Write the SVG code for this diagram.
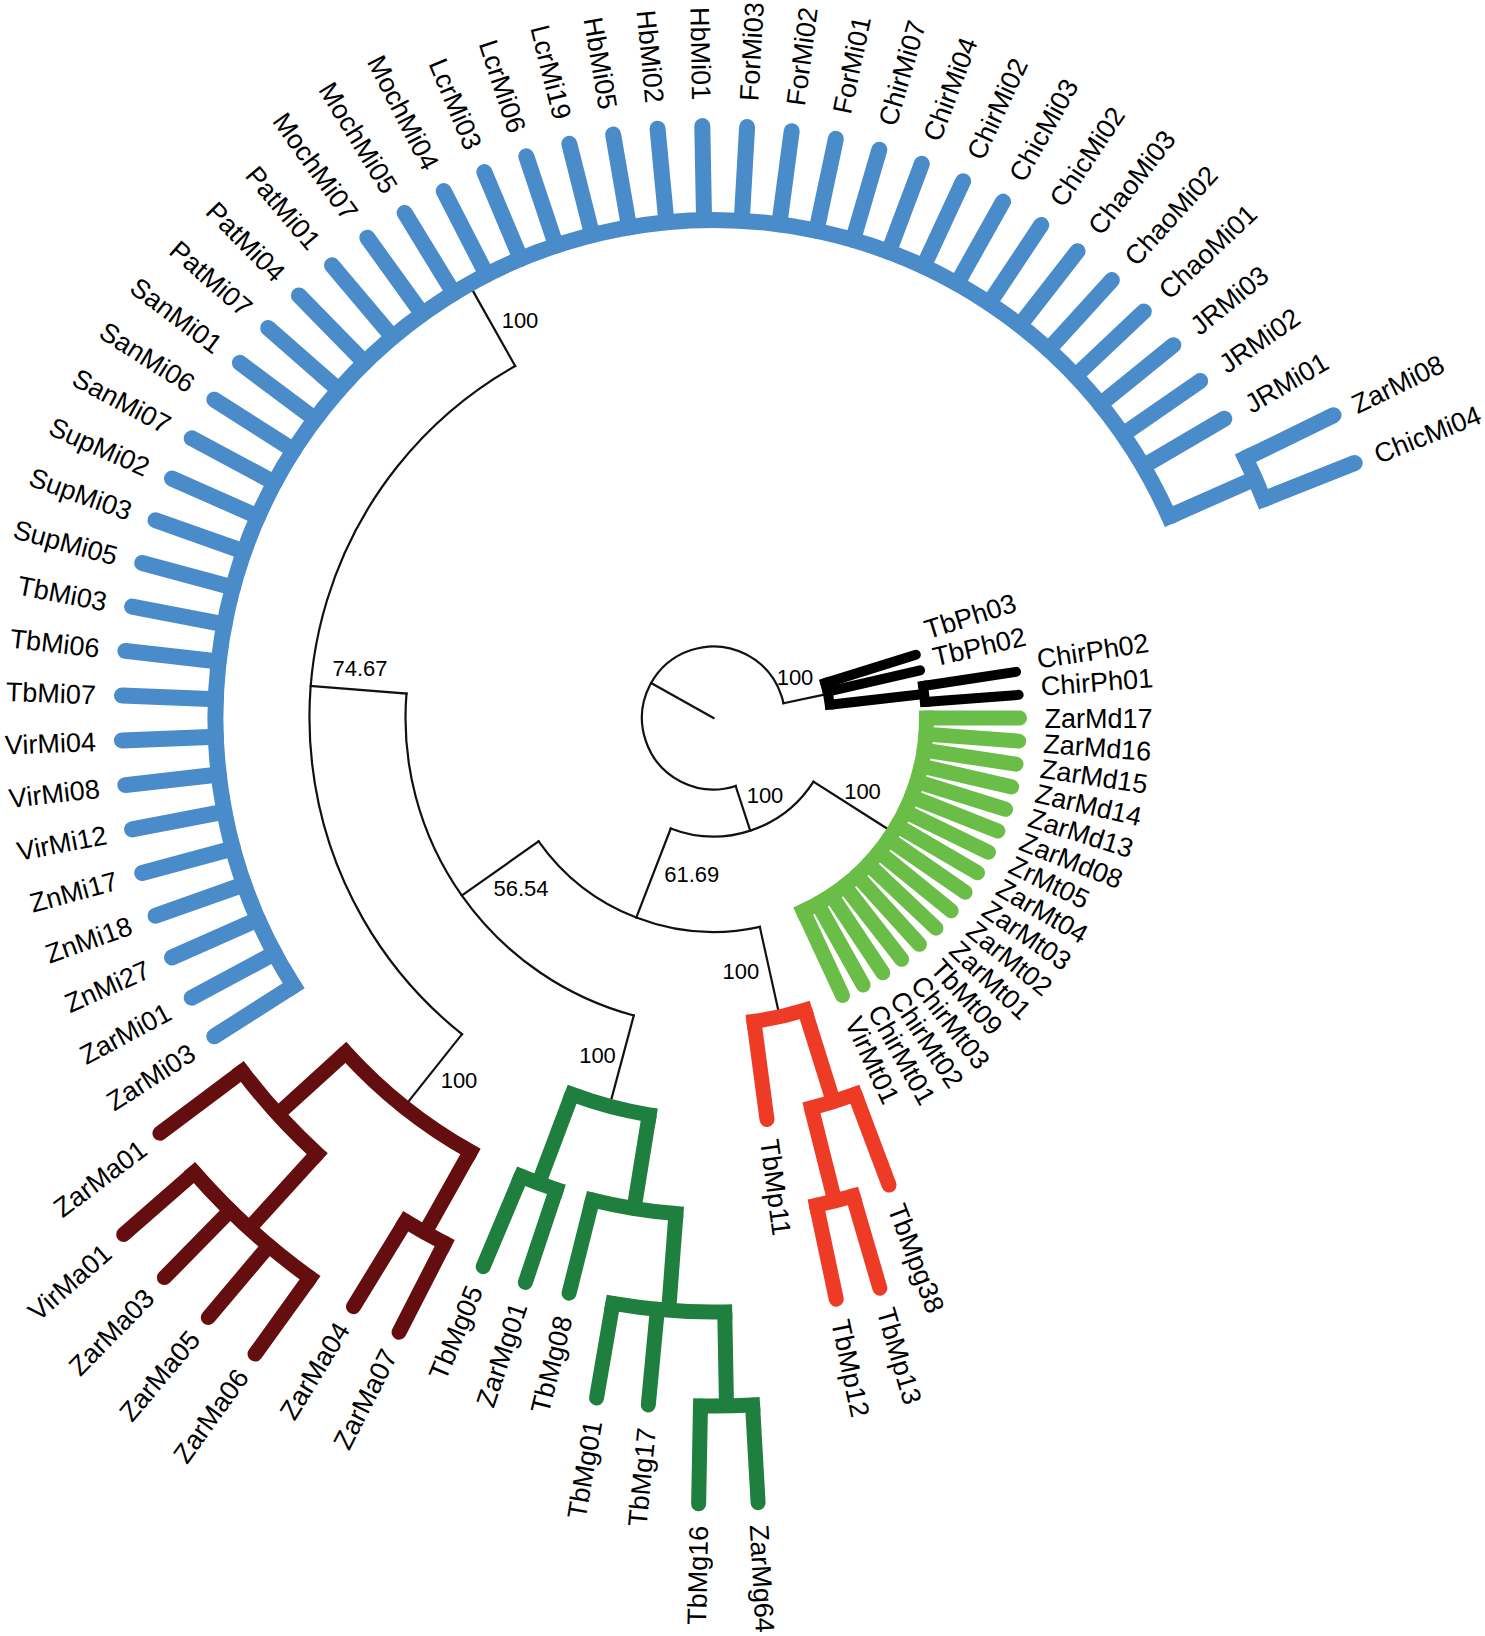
<svg xmlns="http://www.w3.org/2000/svg" width="1485" height="1636" viewBox="0 0 1485 1636">
<style>
.t{fill:none;stroke:#111;stroke-width:2.2;stroke-linecap:square}
.c{fill:none;stroke-linecap:round}
.a{fill:none;stroke-linecap:square}
.s{fill:none;stroke-linecap:butt}
.bl{stroke:#4a8bc9;stroke-width:16}
.ma{stroke:#650e10;stroke-width:15}
.mg{stroke:#1f7f3f;stroke-width:15}
.mp{stroke:#ee3b25;stroke-width:15}
.md{stroke:#6abd46;stroke-width:15}
.ph{stroke:#000;stroke-width:10}
text{font-family:"Liberation Sans",Arial,sans-serif;fill:#000}
.l{font-size:27px}
.f{text-anchor:end}
.bs{font-size:22px;text-anchor:middle}
</style>
<rect width="1485" height="1636" fill="#fff"/>
<g id="connectors" transform="translate(713.5,718)">
<g id="backbone">
<line class="t" x2="71.5" transform="rotate(209.3)"/>
<circle class="t" r="71.5" pathLength="360" stroke-dasharray="276.15 400" transform="rotate(71.95)"/>
<line class="t" x1="71.5" x2="112" transform="rotate(348.1)"/>
<line class="t" x1="71.5" x2="118.5" transform="rotate(71.95)"/>
<circle class="t" r="118.5" pathLength="360" stroke-dasharray="78.65 400" transform="rotate(32.5)"/>
<line class="t" x1="118.5" x2="206" transform="rotate(32.5)"/>
<line class="t" x1="118.5" x2="214" transform="rotate(111.15)"/>
<circle class="t" r="214" pathLength="360" stroke-dasharray="67.3 400" transform="rotate(77.5)"/>
<line class="t" x1="214" x2="299" transform="rotate(77.5)"/>
<line class="t" x1="214" x2="308" transform="rotate(144.8)"/>
<circle class="t" r="308" pathLength="360" stroke-dasharray="79.55 400" transform="rotate(105)"/>
<line class="t" x1="308" x2="395" transform="rotate(105)"/>
<line class="t" x1="308" x2="404" transform="rotate(184.55)"/>
<circle class="t" r="404" pathLength="360" stroke-dasharray="112.1 400" transform="rotate(128.5)"/>
<line class="t" x1="404" x2="490" transform="rotate(128.5)"/>
<line class="t" x1="404" x2="490" transform="rotate(240.6)"/>
</g>
<g id="clade-Ph">
<circle class="a ph" r="117" pathLength="360" stroke-dasharray="10.84 400" transform="rotate(342.65)"/>
<line class="c ph" x1="117" x2="212" transform="rotate(342.651)"/>
<line class="c ph" x1="117" x2="212" transform="rotate(346.988)"/>
<line class="s ph" x1="117" x2="212" transform="rotate(353.494)"/>
<circle class="a ph" r="212" pathLength="360" stroke-dasharray="4.337 400" transform="rotate(351.325)"/>
<line class="c ph" x1="212" x2="306" transform="rotate(351.325)"/>
<line class="c ph" x1="212" x2="306" transform="rotate(355.663)"/>
</g>
<g id="clade-Md">
<circle class="a md" r="213" pathLength="360" stroke-dasharray="65.06 400"/>
<line class="c md" x1="213" x2="306" transform="rotate(0)"/>
<line class="c md" x1="213" x2="306" transform="rotate(4.337)"/>
<line class="c md" x1="213" x2="306" transform="rotate(8.675)"/>
<line class="c md" x1="213" x2="306" transform="rotate(13.012)"/>
<line class="c md" x1="213" x2="306" transform="rotate(17.349)"/>
<line class="c md" x1="213" x2="306" transform="rotate(21.687)"/>
<line class="c md" x1="213" x2="306" transform="rotate(26.024)"/>
<line class="c md" x1="213" x2="306" transform="rotate(30.361)"/>
<line class="c md" x1="213" x2="306" transform="rotate(34.699)"/>
<line class="c md" x1="213" x2="306" transform="rotate(39.036)"/>
<line class="c md" x1="213" x2="306" transform="rotate(43.373)"/>
<line class="c md" x1="213" x2="306" transform="rotate(47.711)"/>
<line class="c md" x1="213" x2="306" transform="rotate(52.048)"/>
<line class="c md" x1="213" x2="306" transform="rotate(56.386)"/>
<line class="c md" x1="213" x2="306" transform="rotate(60.723)"/>
<line class="c md" x1="213" x2="306" transform="rotate(65.060)"/>
</g>
<g id="clade-Mp">
<circle class="a mp" r="306" pathLength="360" stroke-dasharray="9.76 400" transform="rotate(72.65)"/>
<line class="c mp" x1="306" x2="405" transform="rotate(82.41)"/>
<line class="s mp" x1="306" x2="402" transform="rotate(72.65)"/>
<circle class="a mp" r="402" pathLength="360" stroke-dasharray="6.5 400" transform="rotate(69.398)"/>
<line class="c mp" x1="402" x2="499" transform="rotate(69.398)"/>
<line class="s mp" x1="402" x2="498" transform="rotate(75.904)"/>
<circle class="a mp" r="498" pathLength="360" stroke-dasharray="4.337 400" transform="rotate(73.735)"/>
<line class="c mp" x1="498" x2="594" transform="rotate(73.735)"/>
<line class="c mp" x1="498" x2="594" transform="rotate(78.072)"/>
</g>
<g id="clade-Mg">
<circle class="a mg" r="402" pathLength="360" stroke-dasharray="11.4 400" transform="rotate(99.2)"/>
<line class="s mg" x1="402" x2="497" transform="rotate(110.6)"/>
<circle class="a mg" r="497" pathLength="360" stroke-dasharray="4.337 400" transform="rotate(108.434)"/>
<line class="c mg" x1="497" x2="595" transform="rotate(108.434)"/>
<line class="c mg" x1="497" x2="595" transform="rotate(112.771)"/>
<line class="s mg" x1="402" x2="497" transform="rotate(99.2)"/>
<circle class="a mg" r="497" pathLength="360" stroke-dasharray="9.77 400" transform="rotate(94.33)"/>
<line class="c mg" x1="497" x2="593" transform="rotate(104.096)"/>
<line class="s mg" x1="497" x2="594" transform="rotate(94.33)"/>
<circle class="a mg" r="594" pathLength="360" stroke-dasharray="10.84 400" transform="rotate(88.916)"/>
<line class="c mg" x1="594" x2="690" transform="rotate(99.759)"/>
<line class="c mg" x1="594" x2="690" transform="rotate(95.422)"/>
<line class="s mg" x1="594" x2="688" transform="rotate(88.916)"/>
<circle class="a mg" r="688" pathLength="360" stroke-dasharray="4.337 400" transform="rotate(86.747)"/>
<line class="c mg" x1="688" x2="786" transform="rotate(91.084)"/>
<line class="c mg" x1="688" x2="786" transform="rotate(86.747)"/>
</g>
<g id="clade-Ma">
<circle class="a ma" r="497" pathLength="360" stroke-dasharray="18.434 400" transform="rotate(119.277)"/>
<line class="s ma" x1="497" x2="590" transform="rotate(119.277)"/>
<circle class="a ma" r="590" pathLength="360" stroke-dasharray="4.337 400" transform="rotate(117.108)"/>
<line class="c ma" x1="590" x2="690" transform="rotate(117.108)"/>
<line class="c ma" x1="590" x2="690" transform="rotate(121.446)"/>
<line class="s ma" x1="497" x2="589" transform="rotate(137.711)"/>
<circle class="a ma" r="589" pathLength="360" stroke-dasharray="10.844 400" transform="rotate(132.289)"/>
<line class="c ma" x1="589" x2="692" transform="rotate(143.133)"/>
<line class="s ma" x1="589" x2="690" transform="rotate(132.289)"/>
<circle class="a ma" r="690" pathLength="360" stroke-dasharray="13.012 400" transform="rotate(125.783)"/>
<line class="c ma" x1="690" x2="784" transform="rotate(125.783)"/>
<line class="c ma" x1="690" x2="784" transform="rotate(130.120)"/>
<line class="c ma" x1="690" x2="784" transform="rotate(134.458)"/>
<line class="c ma" x1="690" x2="784" transform="rotate(138.795)"/>
</g>
<g id="clade-Mi">
<circle class="a bl" r="498" pathLength="360" stroke-dasharray="188.675 400" transform="rotate(147.47)"/>
<line class="c bl" x1="498" x2="592" transform="rotate(147.470)"/>
<line class="c bl" x1="498" x2="592" transform="rotate(151.807)"/>
<line class="c bl" x1="498" x2="592" transform="rotate(156.145)"/>
<line class="c bl" x1="498" x2="592" transform="rotate(160.482)"/>
<line class="c bl" x1="498" x2="592" transform="rotate(164.819)"/>
<line class="c bl" x1="498" x2="592" transform="rotate(169.157)"/>
<line class="c bl" x1="498" x2="592" transform="rotate(173.494)"/>
<line class="c bl" x1="498" x2="592" transform="rotate(177.831)"/>
<line class="c bl" x1="498" x2="592" transform="rotate(182.169)"/>
<line class="c bl" x1="498" x2="592" transform="rotate(186.506)"/>
<line class="c bl" x1="498" x2="592" transform="rotate(190.843)"/>
<line class="c bl" x1="498" x2="592" transform="rotate(195.181)"/>
<line class="c bl" x1="498" x2="592" transform="rotate(199.518)"/>
<line class="c bl" x1="498" x2="592" transform="rotate(203.855)"/>
<line class="c bl" x1="498" x2="592" transform="rotate(208.193)"/>
<line class="c bl" x1="498" x2="592" transform="rotate(212.530)"/>
<line class="c bl" x1="498" x2="592" transform="rotate(216.867)"/>
<line class="c bl" x1="498" x2="592" transform="rotate(221.205)"/>
<line class="c bl" x1="498" x2="592" transform="rotate(225.542)"/>
<line class="c bl" x1="498" x2="592" transform="rotate(229.880)"/>
<line class="c bl" x1="498" x2="592" transform="rotate(234.217)"/>
<line class="c bl" x1="498" x2="592" transform="rotate(238.554)"/>
<line class="c bl" x1="498" x2="592" transform="rotate(242.892)"/>
<line class="c bl" x1="498" x2="592" transform="rotate(247.229)"/>
<line class="c bl" x1="498" x2="592" transform="rotate(251.566)"/>
<line class="c bl" x1="498" x2="592" transform="rotate(255.904)"/>
<line class="c bl" x1="498" x2="592" transform="rotate(260.241)"/>
<line class="c bl" x1="498" x2="592" transform="rotate(264.578)"/>
<line class="c bl" x1="498" x2="592" transform="rotate(268.916)"/>
<line class="c bl" x1="498" x2="592" transform="rotate(273.253)"/>
<line class="c bl" x1="498" x2="592" transform="rotate(277.590)"/>
<line class="c bl" x1="498" x2="592" transform="rotate(281.928)"/>
<line class="c bl" x1="498" x2="592" transform="rotate(286.265)"/>
<line class="c bl" x1="498" x2="592" transform="rotate(290.602)"/>
<line class="c bl" x1="498" x2="592" transform="rotate(294.940)"/>
<line class="c bl" x1="498" x2="592" transform="rotate(299.277)"/>
<line class="c bl" x1="498" x2="592" transform="rotate(303.614)"/>
<line class="c bl" x1="498" x2="592" transform="rotate(307.952)"/>
<line class="c bl" x1="498" x2="592" transform="rotate(312.289)"/>
<line class="c bl" x1="498" x2="592" transform="rotate(316.627)"/>
<line class="c bl" x1="498" x2="592" transform="rotate(320.964)"/>
<line class="c bl" x1="498" x2="592" transform="rotate(325.301)"/>
<line class="c bl" x1="498" x2="592" transform="rotate(329.639)"/>
<line class="s bl" x1="498" x2="592" transform="rotate(336.145)"/>
<circle class="a bl" r="592" pathLength="360" stroke-dasharray="4.337 400" transform="rotate(333.976)"/>
<line class="c bl" x1="592" x2="690" transform="rotate(333.976)"/>
<line class="c bl" x1="592" x2="690" transform="rotate(338.313)"/>
</g>
</g>
<g id="labels" class="l" transform="translate(713.5,718)">
<g id="ZarMd17"><text dy=".36em" transform="rotate(0) translate(331,0)">ZarMd17</text></g>
<g id="ZarMd16"><text dy=".36em" transform="rotate(4.337) translate(331,0)">ZarMd16</text></g>
<g id="ZarMd15"><text dy=".36em" transform="rotate(8.675) translate(331,0)">ZarMd15</text></g>
<g id="ZarMd14"><text dy=".36em" transform="rotate(13.012) translate(331,0)">ZarMd14</text></g>
<g id="ZarMd13"><text dy=".36em" transform="rotate(17.349) translate(331,0)">ZarMd13</text></g>
<g id="ZarMd08"><text dy=".36em" transform="rotate(21.687) translate(331,0)">ZarMd08</text></g>
<g id="ZrMt05"><text dy=".36em" transform="rotate(26.024) translate(331,0)">ZrMt05</text></g>
<g id="ZarMt04"><text dy=".36em" transform="rotate(30.361) translate(331,0)">ZarMt04</text></g>
<g id="ZarMt03"><text dy=".36em" transform="rotate(34.699) translate(331,0)">ZarMt03</text></g>
<g id="ZarMt02"><text dy=".36em" transform="rotate(39.036) translate(331,0)">ZarMt02</text></g>
<g id="ZarMt01"><text dy=".36em" transform="rotate(43.373) translate(331,0)">ZarMt01</text></g>
<g id="TbMt09"><text dy=".36em" transform="rotate(47.711) translate(331,0)">TbMt09</text></g>
<g id="ChirMt03"><text dy=".36em" transform="rotate(52.048) translate(331,0)">ChirMt03</text></g>
<g id="ChirMt02"><text dy=".36em" transform="rotate(56.386) translate(331,0)">ChirMt02</text></g>
<g id="ChirMt01"><text dy=".36em" transform="rotate(60.723) translate(331,0)">ChirMt01</text></g>
<g id="VirMt01"><text dy=".36em" transform="rotate(65.060) translate(331,0)">VirMt01</text></g>
<g id="TbMpg38"><text dy=".36em" transform="rotate(69.398) translate(520,0)">TbMpg38</text></g>
<g id="TbMp13"><text dy=".36em" transform="rotate(73.735) translate(615,0)">TbMp13</text></g>
<g id="TbMp12"><text dy=".36em" transform="rotate(78.072) translate(615,0)">TbMp12</text></g>
<g id="TbMp11"><text dy=".36em" transform="rotate(82.410) translate(425,0)">TbMp11</text></g>
<g id="ZarMg64"><text dy=".36em" transform="rotate(86.747) translate(808,0)">ZarMg64</text></g>
<g id="TbMg16"><text class="f" dy=".36em" transform="rotate(91.084) translate(808,0) rotate(180)">TbMg16</text></g>
<g id="TbMg17"><text class="f" dy=".36em" transform="rotate(95.422) translate(713,0) rotate(180)">TbMg17</text></g>
<g id="TbMg01"><text class="f" dy=".36em" transform="rotate(99.759) translate(713,0) rotate(180)">TbMg01</text></g>
<g id="TbMg08"><text class="f" dy=".36em" transform="rotate(104.096) translate(617,0) rotate(180)">TbMg08</text></g>
<g id="ZarMg01"><text class="f" dy=".36em" transform="rotate(108.434) translate(617,0) rotate(180)">ZarMg01</text></g>
<g id="TbMg05"><text class="f" dy=".36em" transform="rotate(112.771) translate(617,0) rotate(180)">TbMg05</text></g>
<g id="ZarMa07"><text class="f" dy=".36em" transform="rotate(117.108) translate(711,0) rotate(180)">ZarMa07</text></g>
<g id="ZarMa04"><text class="f" dy=".36em" transform="rotate(121.446) translate(711,0) rotate(180)">ZarMa04</text></g>
<g id="ZarMa06"><text class="f" dy=".36em" transform="rotate(125.783) translate(806,0) rotate(180)">ZarMa06</text></g>
<g id="ZarMa05"><text class="f" dy=".36em" transform="rotate(130.120) translate(806,0) rotate(180)">ZarMa05</text></g>
<g id="ZarMa03"><text class="f" dy=".36em" transform="rotate(134.458) translate(806,0) rotate(180)">ZarMa03</text></g>
<g id="VirMa01"><text class="f" dy=".36em" transform="rotate(138.795) translate(806,0) rotate(180)">VirMa01</text></g>
<g id="ZarMa01"><text class="f" dy=".36em" transform="rotate(143.133) translate(713,0) rotate(180)">ZarMa01</text></g>
<g id="ZarMi03"><text class="f" dy=".36em" transform="rotate(147.470) translate(618,0) rotate(180)">ZarMi03</text></g>
<g id="ZarMi01"><text class="f" dy=".36em" transform="rotate(151.807) translate(618,0) rotate(180)">ZarMi01</text></g>
<g id="ZnMi27"><text class="f" dy=".36em" transform="rotate(156.145) translate(618,0) rotate(180)">ZnMi27</text></g>
<g id="ZnMi18"><text class="f" dy=".36em" transform="rotate(160.482) translate(618,0) rotate(180)">ZnMi18</text></g>
<g id="ZnMi17"><text class="f" dy=".36em" transform="rotate(164.819) translate(618,0) rotate(180)">ZnMi17</text></g>
<g id="VirMi12"><text class="f" dy=".36em" transform="rotate(169.157) translate(618,0) rotate(180)">VirMi12</text></g>
<g id="VirMi08"><text class="f" dy=".36em" transform="rotate(173.494) translate(618,0) rotate(180)">VirMi08</text></g>
<g id="VirMi04"><text class="f" dy=".36em" transform="rotate(177.831) translate(618,0) rotate(180)">VirMi04</text></g>
<g id="TbMi07"><text class="f" dy=".36em" transform="rotate(182.169) translate(618,0) rotate(180)">TbMi07</text></g>
<g id="TbMi06"><text class="f" dy=".36em" transform="rotate(186.506) translate(618,0) rotate(180)">TbMi06</text></g>
<g id="TbMi03"><text class="f" dy=".36em" transform="rotate(190.843) translate(618,0) rotate(180)">TbMi03</text></g>
<g id="SupMi05"><text class="f" dy=".36em" transform="rotate(195.181) translate(618,0) rotate(180)">SupMi05</text></g>
<g id="SupMi03"><text class="f" dy=".36em" transform="rotate(199.518) translate(618,0) rotate(180)">SupMi03</text></g>
<g id="SupMi02"><text class="f" dy=".36em" transform="rotate(203.855) translate(618,0) rotate(180)">SupMi02</text></g>
<g id="SanMi07"><text class="f" dy=".36em" transform="rotate(208.193) translate(618,0) rotate(180)">SanMi07</text></g>
<g id="SanMi06"><text class="f" dy=".36em" transform="rotate(212.530) translate(618,0) rotate(180)">SanMi06</text></g>
<g id="SanMi01"><text class="f" dy=".36em" transform="rotate(216.867) translate(618,0) rotate(180)">SanMi01</text></g>
<g id="PatMi07"><text class="f" dy=".36em" transform="rotate(221.205) translate(618,0) rotate(180)">PatMi07</text></g>
<g id="PatMi04"><text class="f" dy=".36em" transform="rotate(225.542) translate(618,0) rotate(180)">PatMi04</text></g>
<g id="PatMi01"><text class="f" dy=".36em" transform="rotate(229.880) translate(618,0) rotate(180)">PatMi01</text></g>
<g id="MochMi07"><text class="f" dy=".36em" transform="rotate(234.217) translate(618,0) rotate(180)">MochMi07</text></g>
<g id="MochMi05"><text class="f" dy=".36em" transform="rotate(238.554) translate(618,0) rotate(180)">MochMi05</text></g>
<g id="MochMi04"><text class="f" dy=".36em" transform="rotate(242.892) translate(618,0) rotate(180)">MochMi04</text></g>
<g id="LcrMi03"><text class="f" dy=".36em" transform="rotate(247.229) translate(618,0) rotate(180)">LcrMi03</text></g>
<g id="LcrMi06"><text class="f" dy=".36em" transform="rotate(251.566) translate(618,0) rotate(180)">LcrMi06</text></g>
<g id="LcrMi19"><text class="f" dy=".36em" transform="rotate(255.904) translate(618,0) rotate(180)">LcrMi19</text></g>
<g id="HbMi05"><text class="f" dy=".36em" transform="rotate(260.241) translate(618,0) rotate(180)">HbMi05</text></g>
<g id="HbMi02"><text class="f" dy=".36em" transform="rotate(264.578) translate(618,0) rotate(180)">HbMi02</text></g>
<g id="HbMi01"><text class="f" dy=".36em" transform="rotate(268.916) translate(618,0) rotate(180)">HbMi01</text></g>
<g id="ForMi03"><text dy=".36em" transform="rotate(273.253) translate(618,0)">ForMi03</text></g>
<g id="ForMi02"><text dy=".36em" transform="rotate(277.590) translate(618,0)">ForMi02</text></g>
<g id="ForMi01"><text dy=".36em" transform="rotate(281.928) translate(618,0)">ForMi01</text></g>
<g id="ChirMi07"><text dy=".36em" transform="rotate(286.265) translate(618,0)">ChirMi07</text></g>
<g id="ChirMi04"><text dy=".36em" transform="rotate(290.602) translate(618,0)">ChirMi04</text></g>
<g id="ChirMi02"><text dy=".36em" transform="rotate(294.940) translate(618,0)">ChirMi02</text></g>
<g id="ChicMi03"><text dy=".36em" transform="rotate(299.277) translate(618,0)">ChicMi03</text></g>
<g id="ChicMi02"><text dy=".36em" transform="rotate(303.614) translate(618,0)">ChicMi02</text></g>
<g id="ChaoMi03"><text dy=".36em" transform="rotate(307.952) translate(618,0)">ChaoMi03</text></g>
<g id="ChaoMi02"><text dy=".36em" transform="rotate(312.289) translate(618,0)">ChaoMi02</text></g>
<g id="ChaoMi01"><text dy=".36em" transform="rotate(316.627) translate(618,0)">ChaoMi01</text></g>
<g id="JRMi03"><text dy=".36em" transform="rotate(320.964) translate(618,0)">JRMi03</text></g>
<g id="JRMi02"><text dy=".36em" transform="rotate(325.301) translate(618,0)">JRMi02</text></g>
<g id="JRMi01"><text dy=".36em" transform="rotate(329.639) translate(618,0)">JRMi01</text></g>
<g id="ZarMi08"><text dy=".36em" transform="rotate(333.976) translate(712,0)">ZarMi08</text></g>
<g id="ChicMi04"><text dy=".36em" transform="rotate(338.313) translate(712,0)">ChicMi04</text></g>
</g>
<g id="labels-Ph" class="l">
<g id="TbPh03"><text dy=".36em" transform="translate(925,630) rotate(-17.35)">TbPh03</text></g>
<g id="TbPh02"><text dy=".36em" transform="translate(933,657) rotate(-13)">TbPh02</text></g>
<g id="ChirPh02"><text dy=".36em" transform="translate(1037,659) rotate(-8.67)">ChirPh02</text></g>
<g id="ChirPh01"><text dy=".36em" transform="translate(1040.7,686) rotate(-4.34)">ChirPh01</text></g>
</g>
<g id="support" class="bs">
<text x="795" y="684.6">100</text>
<text x="765" y="803">100</text>
<text x="862.5" y="799">100</text>
<text x="691.7" y="882">61.69</text>
<text x="521" y="895.5">56.54</text>
<text x="360" y="675.5">74.67</text>
<text x="520" y="327.5">100</text>
<text x="459" y="1088">100</text>
<text x="597.5" y="1063">100</text>
<text x="740.8" y="978.7">100</text>
</g>
</svg>
